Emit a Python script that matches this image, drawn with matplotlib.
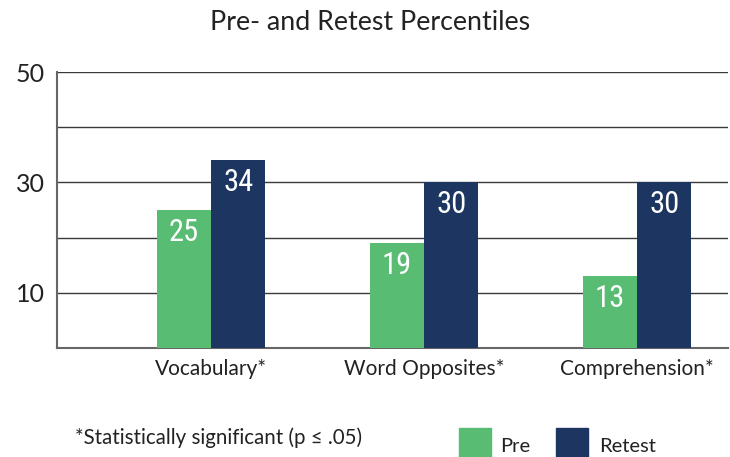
import matplotlib
matplotlib.use("Agg")
import matplotlib.pyplot as plt
from matplotlib import font_manager as fm
from matplotlib.patches import Rectangle
import numpy as np

categories = ["Vocabulary*", "Word Opposites*", "Comprehension*"]
pre = [25, 19, 13]
retest = [34, 30, 30]
series_names = ["Pre", "Retest"]
yticks = [10, 30, 50]
title = "Pre- and Retest Percentiles"
footnote = "*Statistically significant (p \u2264 .05)"

GREEN = "#58BC72"
NAVY = "#1D3661"
FONT = ["Lato", "DejaVu Sans"]

# pick a condensed face for the in-bar numbers
names = {f.name for f in fm.fontManager.ttflist}
num_family, num_stretch = "DejaVu Sans", "normal"
for cand in ["Liberation Sans Narrow", "Roboto Condensed", "Open Sans Condensed",
             "Noto Sans Condensed", "DejaVu Sans Condensed"]:
    if cand in names:
        num_family = cand
        break
else:
    for f in fm.fontManager.ttflist:
        if f.name in ("DejaVu Sans", "Noto Sans", "Open Sans", "Roboto") and \
                f.stretch in ("condensed", "semi-condensed", "extra-condensed"):
            num_family, num_stretch = f.name, f.stretch
            break

W, H = 730, 457
fig = plt.figure(figsize=(W / 100, H / 100), dpi=100)
ax = fig.add_axes([57 / W, 1 - 348 / H, (728 - 57) / W, (348 - 72) / H])

x = np.arange(len(categories))
bw = 0.255
b1 = ax.bar(x - bw / 2, pre, bw, color=GREEN, zorder=3)
b2 = ax.bar(x + bw / 2, retest, bw, color=NAVY, zorder=3)

for bars, vals in ((b1, pre), (b2, retest)):
    for rect, v in zip(bars, vals):
        ax.annotate(str(v), (rect.get_x() + rect.get_width() / 2, v),
                    xytext=(0, -16), textcoords="offset points",
                    ha="center", va="center", color="white",
                    fontsize=22, family=num_family, fontstretch=num_stretch,
                    zorder=4)

ax.set_xlim(-0.723, 2.427)
ax.set_ylim(0, 50)
ax.set_yticks(yticks)
ax.set_yticks([20, 40], minor=True)
ax.grid(axis="y", which="both", color="#3a3a3a", linewidth=1.0, zorder=0)
ax.set_axisbelow(True)
ax.tick_params(axis="y", which="both", length=0, pad=9, labelsize=18, labelcolor="#222222")
ax.set_xticks(x)
ax.set_xticklabels(categories)
ax.tick_params(axis="x", length=0, pad=8, labelsize=15, labelcolor="#222222")
for lbl in ax.get_xticklabels() + ax.get_yticklabels():
    lbl.set_family(FONT)

for s in ("top", "right"):
    ax.spines[s].set_visible(False)
for s in ("left", "bottom"):
    ax.spines[s].set_color("#666666")
    ax.spines[s].set_linewidth(1.5)

fig.text(370 / W, 1 - 22 / H, title, ha="center", va="center",
         fontsize=19.3, color="#222222", family=FONT)
fig.text(75 / W, 1 - 438 / H, footnote, ha="left", va="center",
         fontsize=14.8, color="#222222", family=FONT)

# legend
leg_items = [(459, GREEN, 500, series_names[0]), (556, NAVY, 599, series_names[1])]
for x0, col, tx, name in leg_items:
    fig.add_artist(Rectangle((x0 / W, 1 - 458 / H), 32 / W, 30 / H,
                             transform=fig.transFigure, color=col))
    fig.text(tx / W, 1 - 446 / H, name, ha="left", va="center",
             fontsize=14.5, color="#222222", family=FONT)

fig.savefig("out.png", dpi=100)
